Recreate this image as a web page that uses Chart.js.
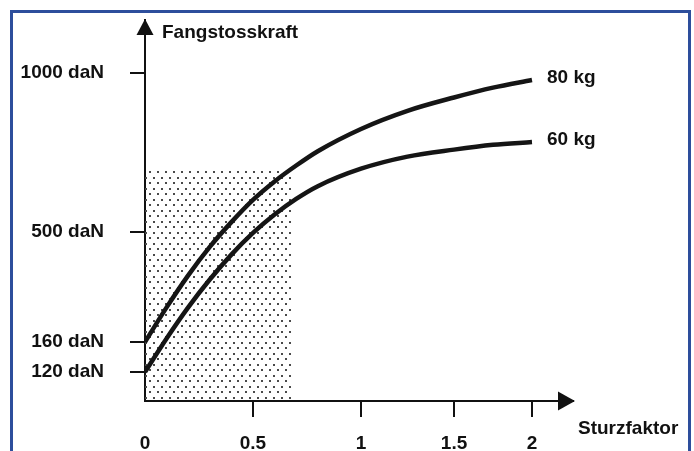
<!DOCTYPE html>
<html>
<head>
<meta charset="utf-8">
<script src="https://cdn.jsdelivr.net/npm/chart.js@4.4.1/dist/chart.umd.min.js"></script>
<style>
    body { margin: 0; background: #fff; }
    #wrap { position: relative; width: 694px; height: 451px; overflow: hidden; }
    #frame {
        position: absolute; left: 10px; top: 10px; width: 675px; height: 460px;
        border: 3px solid #2d4e9c; border-bottom: none;
    }
    canvas { position: absolute; left: 0; top: 0; }
</style>
</head>
<body>
<div id="wrap">
    <div id="frame"></div>
    <canvas id="chart" width="694" height="451"></canvas>
</div>
<script>
// values
const sturzfaktor = [0, 0.1, 0.2, 0.3, 0.4, 0.5, 0.6, 0.7, 0.8, 1.0, 1.25, 1.5, 1.75, 2.0];
const kraft80kg = [160, 267, 366, 454, 531, 601, 659, 709, 754, 824, 881, 923, 954, 978];
const kraft60kg = [120, 171, 267, 353, 430, 497, 555, 604, 644, 699, 737, 759, 774, 783];
const seriesLabels = ["80 kg", "60 kg"];

// dotted zone: Sturzfaktor 0 .. 0.68, up to 700 daN
const zoneX = [0, 0.68];
const zoneTop = [700, 700];

const xTicks = [0, 0.5, 1, 1.5, 2];
const xTickLabels = ["0", "0.5", "1", "1.5", "2"];
const yTicks = [120, 160, 500, 1000];
const yTickLabels = ["120 daN", "160 daN", "500 daN", "1000 daN"];

const xTitle = "Sturzfaktor";
const yTitle = "Fangstosskraft";

// the drawing is schematic: the axes are not evenly spaced, so each axis
// maps its values piecewise onto the axis length
const axisStops = {
    x: { values: [0, 0.5, 1, 1.5, 2, 2.13], spots: [0, 0.2523, 0.5047, 0.722, 0.9042, 1] },
    y: { values: [0, 120, 160, 500, 1000, 1167], spots: [0, 0.0761, 0.1549, 0.4436, 0.8609, 1] }
};

function lerpStops(v, from, to) {
    let i = 1;
    while (i < from.length - 1 && v > from[i]) i++;
    const t = (v - from[i - 1]) / (from[i] - from[i - 1]);
    return to[i - 1] + t * (to[i] - to[i - 1]);
}

class SchematicScale extends Chart.LinearScale {
    getPixelForValue(value) {
        if (value === null || value === undefined) return NaN;
        const s = axisStops[this.id];
        return this.getPixelForDecimal(lerpStops(value, s.values, s.spots));
    }
    getValueForPixel(pixel) {
        const s = axisStops[this.id];
        return lerpStops(this.getDecimalForPixel(pixel), s.spots, s.values);
    }
}
SchematicScale.id = "schematic";
SchematicScale.defaults = Chart.LinearScale.defaults;
Chart.register(SchematicScale);

function makeDots() {
    const c = document.createElement("canvas");
    c.width = 8;
    c.height = 11;
    const g = c.getContext("2d");
    g.fillStyle = "#4a4a4a";
    g.fillRect(1, 1, 2, 2);
    g.fillRect(5, 6, 2, 2);
    return g.createPattern(c, "repeat");
}

function noPadding(scale) {
    scale.paddingTop = 0;
    scale.paddingBottom = 0;
    scale.paddingLeft = 0;
    scale.paddingRight = 0;
}

const font = "bold 19px 'Liberation Sans', Arial, sans-serif";

const decorations = {
    id: "decorations",
    afterDatasetsDraw(chart) {
        const { ctx, chartArea } = chart;
        const x0 = chart.scales.x.getPixelForValue(0);
        const y0 = chart.scales.y.getPixelForValue(0);
        ctx.save();
        ctx.fillStyle = "#111";

        // arrow heads
        ctx.beginPath();
        ctx.moveTo(x0, chartArea.top - 1);
        ctx.lineTo(x0 - 8.5, chartArea.top + 15);
        ctx.lineTo(x0 + 8.5, chartArea.top + 15);
        ctx.closePath();
        ctx.fill();

        ctx.beginPath();
        ctx.moveTo(chartArea.right + 2, y0);
        ctx.lineTo(chartArea.right - 15, y0 - 9.5);
        ctx.lineTo(chartArea.right - 15, y0 + 9.5);
        ctx.closePath();
        ctx.fill();

        ctx.font = font;
        ctx.textAlign = "left";
        ctx.textBaseline = "alphabetic";
        ctx.fillText(yTitle, x0 + 17, chartArea.top + 18);
        ctx.fillText(xTitle, chartArea.right + 5, y0 + 33);

        seriesLabels.forEach((label, i) => {
            const pts = chart.getDatasetMeta(i).data;
            const last = pts[pts.length - 1];
            ctx.fillText(label, last.x + 15, last.y + 3);
        });
        ctx.restore();
    }
};

const ctx = document.getElementById("chart").getContext("2d");
new Chart(ctx, {
    type: "line",
    data: {
        datasets: [
            {
                label: seriesLabels[0],
                data: sturzfaktor.map((x, i) => ({ x, y: kraft80kg[i] })),
                borderColor: "#151515",
                borderWidth: 4.5,
                pointRadius: 0,
                cubicInterpolationMode: "monotone",
                fill: false
            },
            {
                label: seriesLabels[1],
                data: sturzfaktor.map((x, i) => ({ x, y: kraft60kg[i] })),
                borderColor: "#151515",
                borderWidth: 4.5,
                pointRadius: 0,
                cubicInterpolationMode: "monotone",
                fill: false
            },
            {
                label: "zone",
                data: zoneX.map((x, i) => ({ x, y: zoneTop[i] })),
                borderWidth: 0,
                borderColor: "rgba(0,0,0,0)",
                backgroundColor: makeDots(),
                pointRadius: 0,
                fill: "origin"
            }
        ]
    },
    options: {
        responsive: false,
        animation: false,
        layout: { padding: { left: 0, top: 20, right: 121, bottom: 0 } },
        plugins: { legend: { display: false }, tooltip: { enabled: false } },
        scales: {
            x: {
                type: "schematic",
                min: 0,
                max: 2.13,
                afterBuildTicks: (scale) => { scale.ticks = xTicks.map(v => ({ value: v })); },
                afterFit: (scale) => { scale.height = 50; noPadding(scale); },
                border: { display: true, color: "#111", width: 2 },
                grid: {
                    drawOnChartArea: false,
                    drawTicks: true,
                    tickLength: 16,
                    lineWidth: 2,
                    color: (c) => (c.tick && c.tick.value === 0 ? "rgba(0,0,0,0)" : "#111")
                },
                ticks: {
                    autoSkip: false,
                    maxRotation: 0,
                    padding: 15,
                    color: "#111",
                    font: { family: "'Liberation Sans', Arial, sans-serif", size: 19, weight: "bold" },
                    callback: (value, index) => xTickLabels[index]
                }
            },
            y: {
                type: "schematic",
                min: 0,
                max: 1167,
                afterBuildTicks: (scale) => { scale.ticks = yTicks.map(v => ({ value: v })); },
                afterFit: (scale) => { scale.width = 145; noPadding(scale); },
                border: { display: true, color: "#111", width: 2 },
                grid: {
                    drawOnChartArea: false,
                    drawTicks: true,
                    tickLength: 15,
                    lineWidth: 2,
                    color: "#111"
                },
                ticks: {
                    autoSkip: false,
                    padding: 26,
                    color: "#111",
                    font: { family: "'Liberation Sans', Arial, sans-serif", size: 19, weight: "bold" },
                    callback: (value, index) => yTickLabels[index]
                }
            }
        }
    },
    plugins: [decorations]
});
</script>
</body>
</html>
